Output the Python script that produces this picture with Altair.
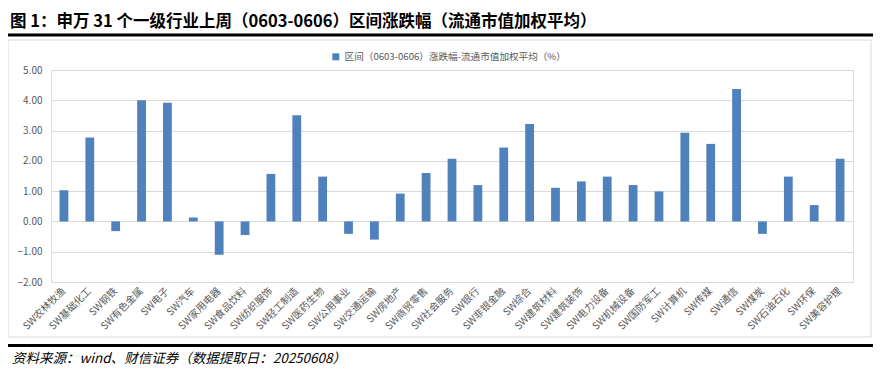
import altair as alt
import pandas as pd

industries = ["SW农林牧渔", "SW基础化工", "SW钢铁", "SW有色金属", "SW电子", "SW汽车", "SW家用电器",
              "SW食品饮料", "SW纺织服饰", "SW轻工制造", "SW医药生物", "SW公用事业", "SW交通运输",
              "SW房地产", "SW商贸零售", "SW社会服务", "SW银行", "SW非银金融", "SW综合", "SW建筑材料",
              "SW建筑装饰", "SW电力设备", "SW机械设备", "SW国防军工", "SW计算机", "SW传媒", "SW通信",
              "SW煤炭", "SW石油石化", "SW环保", "SW美容护理"]
changes = [1.03, 2.77, -0.32, 4.00, 3.92, 0.13, -1.10,
           -0.45, 1.57, 3.51, 1.48, -0.41, -0.60,
           0.92, 1.60, 2.07, 1.20, 2.44, 3.22, 1.11,
           1.32, 1.48, 1.20, 0.99, 2.93, 2.56, 4.37,
           -0.41, 1.48, 0.54, 2.07]
series_name = "区间（0603-0606）涨跌幅-流通市值加权平均（%）"
y_ticks = [-2, -1, 0, 1, 2, 3, 4, 5]
title_text = "图 1：申万 31 个一级行业上周（0603-0606）区间涨跌幅（流通市值加权平均）"
source_text = "资料来源：wind、财信证券（数据提取日：20250608）"

df = pd.DataFrame({"industry": industries, "value": changes, "series": series_name})

FONT = "Noto Sans CJK SC"
GREY = "#595959"

bars = alt.Chart(df).mark_bar(color="#4F81BD").encode(
    x=alt.X("industry:N", sort=industries,
            scale=alt.Scale(paddingInner=0.66, paddingOuter=0.33),
            axis=alt.Axis(title=None, labelAngle=-45, labelAlign="right", labelBaseline="middle",
                          labelPadding=7, ticks=False, domain=False, labelFontSize=10,
                          labelColor=GREY, labelFont=FONT)),
    y=alt.Y("value:Q", scale=alt.Scale(domain=[-2, 5], nice=False),
            axis=alt.Axis(title=None, values=y_ticks, format=".2f", ticks=False, domain=False,
                          labelFontSize=10, labelColor=GREY, labelPadding=9, labelFont=FONT,
                          gridColor="#D9D9D9", gridWidth=1)),
    color=alt.Color("series:N", scale=alt.Scale(range=["#4F81BD"]),
                    legend=alt.Legend(title=None, orient="none", legendX=280, legendY=-18,
                                      symbolType="square", symbolSize=49, labelFontSize=9.6,
                                      labelColor=GREY, labelFont=FONT, symbolStrokeWidth=0,
                                      labelLimit=500)),
)

one = pd.DataFrame({"t": [title_text]})
title = alt.Chart(one).mark_text(align="left", baseline="middle", font=FONT, fontSize=16.5,
                                 fontWeight="bold", color="#000000").encode(
    x=alt.value(-41), y=alt.value(-48), text="t:N")

src = alt.Chart(pd.DataFrame({"t": [source_text]})).mark_text(
    align="left", baseline="middle", font=FONT, fontSize=13.5, fontStyle="italic",
    color="#000000").encode(x=alt.value(-39), y=alt.value(289), text="t:N")

top_line = alt.Chart(one).mark_rule(color="#000000", strokeWidth=3).encode(
    x=alt.value(-43), x2=alt.value(822), y=alt.value(-35))
bottom_line = alt.Chart(one).mark_rule(color="#000000", strokeWidth=3).encode(
    x=alt.value(-43), x2=alt.value(822), y=alt.value(275.5))
frame = alt.Chart(one).mark_rect(fill=None, stroke="#D9D9D9", strokeWidth=1).encode(
    x=alt.value(-43), x2=alt.value(820), y=alt.value(-30), y2=alt.value(267))

chart = alt.layer(frame, bars, title, src, top_line, bottom_line).properties(
    width=802, height=212,
    autosize=alt.AutoSizeParams(type="none"),
    padding={"left": 43, "top": 62, "right": 20, "bottom": 85},
).configure_view(stroke=None).configure(background="#FFFFFF")

chart.save("out.html", embed_options={"renderer": "svg", "actions": False})
